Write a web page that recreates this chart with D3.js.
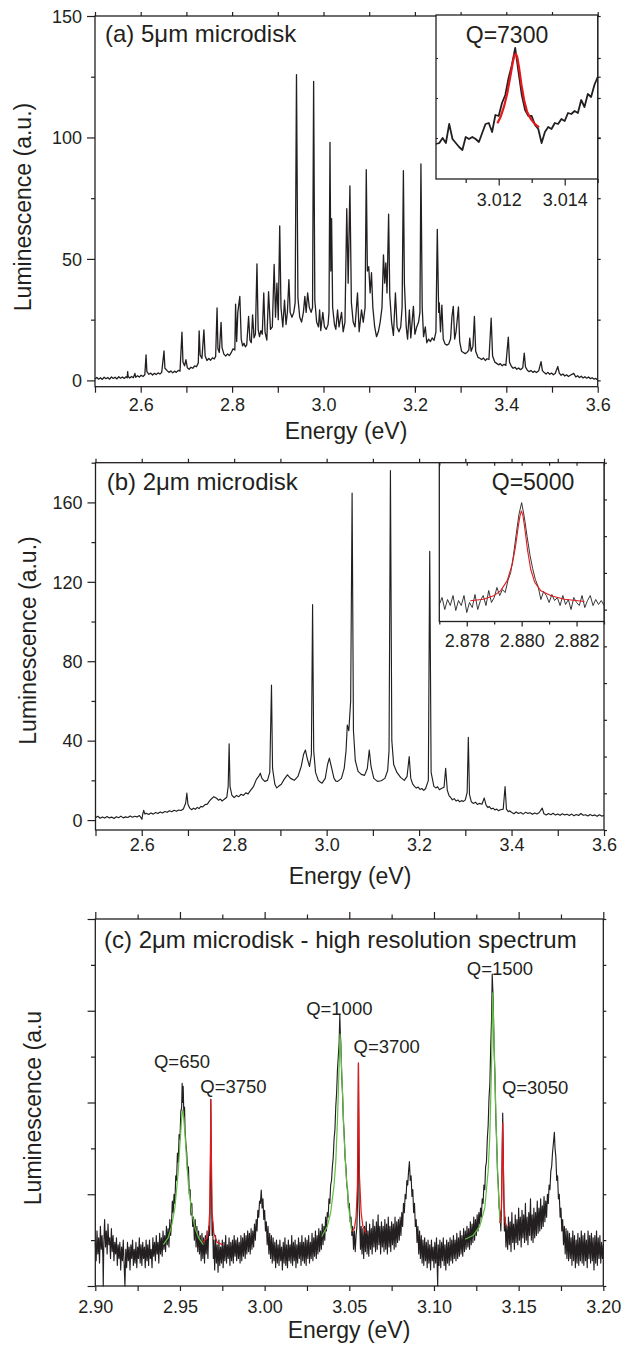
<!DOCTYPE html>
<html lang="en">
<head>
<meta charset="UTF-8">
<title>Microdisk luminescence spectra</title>
<script src="https://d3js.org/d3.v7.min.js"></script>
<style>
  body { margin: 0; background: #fff; }
  svg { display: block; }
  text { font-family: "Liberation Sans", Arial, Helvetica, sans-serif; fill: #231f20; }
</style>
</head>
<body>
<svg width="627" height="1345"></svg>
<script>
// ---- panel (a): 5um microdisk, [energy eV, luminescence a.u.]
const specA = [[2.500,0.6],[2.504,1.2],[2.508,0.5],[2.512,1.1],[2.516,0.4],[2.520,1.3],[2.524,0.7],[2.528,1.2],[2.532,0.5],[2.536,1.4],[2.540,0.8],[2.544,1.3],[2.548,0.6],[2.552,1.5],[2.556,0.9],[2.560,1.4],[2.564,0.8],[2.568,1.5],[2.5705,1.1],[2.5715,3.6],[2.5725,1.6],[2.576,1.0],[2.580,1.6],[2.584,1.1],[2.5873,2.9],[2.589,1.3],[2.593,1.9],[2.597,1.4],[2.601,2.1],[2.605,1.6],[2.609,2.3],[2.6117,10.5],[2.6135,3.6],[2.618,2.5],[2.622,3.0],[2.626,2.2],[2.630,2.9],[2.634,2.4],[2.638,3.1],[2.642,2.6],[2.646,3.3],[2.6510,12.1],[2.653,5.0],[2.658,4.0],[2.662,3.3],[2.666,3.9],[2.670,3.1],[2.674,3.8],[2.678,3.3],[2.682,4.1],[2.686,3.8],[2.6903,19.9],[2.6925,7.5],[2.6960,6.0],[2.6990,8.5],[2.702,5.2],[2.706,4.6],[2.710,5.4],[2.714,5.0],[2.718,6.0],[2.722,5.6],[2.726,7.2],[2.7279,20.4],[2.730,10.5],[2.734,9.0],[2.7383,20.8],[2.741,10.0],[2.745,8.2],[2.749,9.0],[2.753,8.3],[2.757,9.3],[2.761,8.8],[2.764,9.9],[2.7671,29.8],[2.769,13.0],[2.772,11.5],[2.7759,23.9],[2.778,13.5],[2.782,10.8],[2.786,10.0],[2.790,10.9],[2.794,10.2],[2.798,11.4],[2.802,13.0],[2.806,12.5],[2.8076,31.4],[2.810,16.0],[2.8125,28.0],[2.8169,34.6],[2.820,17.0],[2.823,14.2],[2.826,15.3],[2.829,13.8],[2.832,14.6],[2.8361,26.3],[2.839,16.5],[2.842,15.5],[2.8448,27.0],[2.848,17.5],[2.851,19.0],[2.8544,48.0],[2.857,21.0],[2.860,18.0],[2.863,20.5],[2.866,19.0],[2.8693,36.0],[2.872,20.0],[2.876,16.6],[2.8798,36.5],[2.884,21.0],[2.888,22.0],[2.8920,47.7],[2.895,26.0],[2.8981,40.0],[2.901,25.0],[2.9042,63.6],[2.907,30.0],[2.911,22.0],[2.9147,33.0],[2.918,23.0],[2.921,28.0],[2.9243,41.5],[2.927,28.0],[2.931,26.0],[2.935,28.0],[2.938,32.0],[2.9409,125.9],[2.944,34.0],[2.948,26.0],[2.952,24.0],[2.956,28.0],[2.9592,34.6],[2.962,28.0],[2.9653,36.0],[2.969,30.0],[2.973,28.0],[2.976,30.0],[2.9784,123.1],[2.981,33.0],[2.985,24.0],[2.989,22.0],[2.9915,29.0],[2.994,20.5],[2.9985,28.0],[3.002,22.0],[3.006,21.0],[3.010,23.0],[3.012,28.0],[3.0142,98.0],[3.0160,45.0],[3.0177,66.6],[3.020,30.0],[3.024,23.0],[3.027,21.0],[3.0308,29.0],[3.034,22.0],[3.0395,28.0],[3.043,20.0],[3.047,24.0],[3.0509,70.7],[3.054,40.0],[3.0578,80.1],[3.061,32.0],[3.065,24.0],[3.069,22.0],[3.0744,36.0],[3.078,20.0],[3.0832,29.0],[3.087,24.0],[3.091,30.0],[3.0936,86.7],[3.096,45.0],[3.0990,46.8],[3.102,36.0],[3.1050,44.3],[3.108,30.0],[3.112,22.0],[3.116,18.0],[3.120,20.0],[3.124,24.0],[3.128,30.0],[3.1312,51.7],[3.1340,40.0],[3.1364,48.4],[3.139,36.0],[3.1425,68.4],[3.145,35.0],[3.149,24.0],[3.153,18.5],[3.1574,36.0],[3.161,22.0],[3.165,20.0],[3.169,22.0],[3.172,30.0],[3.1748,86.3],[3.177,40.0],[3.181,22.0],[3.184,17.0],[3.1879,29.0],[3.191,17.5],[3.1967,30.5],[3.200,19.0],[3.204,22.0],[3.208,24.0],[3.211,28.0],[3.2132,89.1],[3.216,30.0],[3.219,18.0],[3.2228,22.0],[3.226,15.5],[3.230,17.0],[3.234,16.0],[3.238,17.5],[3.242,16.5],[3.246,20.0],[3.2490,62.2],[3.252,28.0],[3.2534,31.9],[3.256,20.0],[3.2590,31.0],[3.262,17.0],[3.266,15.0],[3.270,14.5],[3.274,15.0],[3.278,17.0],[3.2810,26.2],[3.2840,30.5],[3.287,17.0],[3.2900,20.0],[3.2953,30.2],[3.298,16.0],[3.302,12.0],[3.306,11.5],[3.310,11.0],[3.314,11.5],[3.318,12.5],[3.3200,17.4],[3.323,12.0],[3.327,14.0],[3.3302,26.3],[3.333,12.0],[3.338,9.5],[3.342,9.1],[3.346,8.6],[3.350,9.2],[3.354,8.2],[3.358,8.9],[3.362,8.6],[3.3669,25.6],[3.370,10.0],[3.375,7.5],[3.379,7.0],[3.383,6.4],[3.387,6.9],[3.391,6.0],[3.395,6.6],[3.399,6.2],[3.4044,17.8],[3.407,7.5],[3.411,5.8],[3.415,5.0],[3.419,5.4],[3.423,4.6],[3.427,5.1],[3.431,4.4],[3.436,5.2],[3.4393,11.2],[3.442,5.5],[3.446,4.2],[3.450,3.6],[3.454,4.1],[3.458,3.3],[3.462,3.8],[3.466,3.2],[3.471,4.0],[3.4760,7.7],[3.479,4.0],[3.483,3.2],[3.487,2.6],[3.491,3.3],[3.495,2.5],[3.499,3.0],[3.503,2.3],[3.507,2.8],[3.5127,5.7],[3.516,3.0],[3.520,2.1],[3.524,2.6],[3.528,1.8],[3.532,2.3],[3.536,1.6],[3.540,2.1],[3.5476,2.9],[3.552,1.4],[3.556,1.9],[3.560,1.2],[3.564,1.7],[3.568,1.0],[3.572,1.5],[3.576,0.9],[3.580,1.4],[3.584,0.7],[3.588,1.1],[3.592,0.5],[3.596,0.8],[3.600,0.1]];

// inset of (a): measured trace and Lorentzian fit
const insetA = [[3.0101,35],[3.0102,36],[3.0103,41],[3.0104,36],[3.0105,55],[3.0106,40],[3.0107,36],[3.0108,32],[3.0109,29],[3.0110,42],[3.0111,40],[3.0112,42],[3.0113,40],[3.0114,37],[3.0115,46],[3.0116,55],[3.0117,56],[3.0118,47],[3.0119,64],[3.0120,63],[3.0121,76],[3.0122,84],[3.0123,101],[3.0124,114],[3.0125,131],[3.0126,107],[3.0127,84],[3.0128,69],[3.0129,63],[3.0130,63],[3.0131,54],[3.0132,50],[3.0133,36],[3.0134,47],[3.0135,52],[3.0136,50],[3.0137,56],[3.0138,55],[3.0139,60],[3.0140,58],[3.0141,66],[3.0142,65],[3.0143,68],[3.0144,66],[3.0145,79],[3.0146,72],[3.0147,85],[3.0148,82],[3.0149,94],[3.0150,102]];
const fitA = [[3.01196,55.7],[3.01206,62.3],[3.01216,72.3],[3.01226,85.7],[3.01236,104],[3.01243,117.3],[3.01248,124],[3.01252,125],[3.01256,122.3],[3.01262,110.7],[3.01269,94],[3.01277,79],[3.01286,67.3],[3.01296,60.7],[3.01306,56.3],[3.01316,53.3],[3.01322,51.7]];

// ---- panel (b): 2um microdisk
const specB = [[2.500,1.2],[2.505,1.9],[2.510,0.9],[2.515,1.6],[2.520,1.0],[2.525,1.8],[2.530,1.1],[2.535,1.5],[2.540,0.8],[2.545,1.7],[2.550,1.2],[2.555,2.0],[2.560,1.1],[2.565,1.6],[2.570,1.3],[2.575,2.1],[2.580,1.4],[2.585,1.9],[2.590,1.6],[2.595,2.3],[2.599,1.0],[2.6005,0.4],[2.602,2.8],[2.6043,4.9],[2.607,3.0],[2.610,3.4],[2.615,2.8],[2.620,3.6],[2.625,3.0],[2.630,3.8],[2.635,3.3],[2.640,4.1],[2.645,3.6],[2.650,4.3],[2.655,3.9],[2.660,4.7],[2.665,4.2],[2.670,4.9],[2.675,4.4],[2.680,5.1],[2.685,4.8],[2.690,5.6],[2.695,8.5],[2.6976,13.6],[2.700,8.0],[2.704,6.0],[2.708,5.2],[2.712,6.0],[2.716,5.4],[2.720,6.4],[2.724,5.8],[2.728,6.9],[2.732,6.6],[2.737,7.8],[2.742,8.0],[2.746,9.4],[2.750,10.5],[2.756,11.8],[2.762,11.0],[2.766,10.0],[2.770,10.6],[2.774,9.6],[2.778,10.4],[2.784,11.5],[2.787,17.0],[2.7891,38.4],[2.791,17.0],[2.795,12.5],[2.800,11.3],[2.805,12.4],[2.810,11.8],[2.815,13.0],[2.820,12.4],[2.825,13.7],[2.830,13.2],[2.835,14.8],[2.842,17.0],[2.848,20.5],[2.853,22.0],[2.8565,23.6],[2.860,21.0],[2.866,19.5],[2.872,20.0],[2.877,24.0],[2.8807,68.0],[2.883,26.0],[2.888,18.0],[2.892,16.2],[2.896,17.0],[2.902,18.0],[2.908,20.5],[2.9152,22.8],[2.922,21.0],[2.930,20.0],[2.938,22.0],[2.945,27.0],[2.950,33.0],[2.9541,35.3],[2.958,31.0],[2.963,27.0],[2.967,33.0],[2.9696,108.5],[2.972,35.0],[2.976,24.0],[2.982,20.0],[2.986,19.2],[2.990,18.6],[2.997,21.0],[3.002,28.0],[3.0059,31.2],[3.010,27.0],[3.016,21.0],[3.020,19.6],[3.024,19.5],[3.032,21.0],[3.038,26.0],[3.042,35.0],[3.0447,47.9],[3.048,45.0],[3.052,60.0],[3.0551,164.7],[3.058,45.0],[3.062,30.0],[3.068,24.5],[3.075,23.0],[3.082,22.5],[3.088,26.0],[3.0922,35.3],[3.096,27.0],[3.102,21.0],[3.110,19.5],[3.118,19.8],[3.126,21.0],[3.132,25.0],[3.135,35.0],[3.138,176.0],[3.141,40.0],[3.145,28.0],[3.152,24.0],[3.160,21.5],[3.168,20.0],[3.174,22.0],[3.1786,32.0],[3.182,21.0],[3.186,18.2],[3.190,17.0],[3.194,16.1],[3.198,16.6],[3.202,15.4],[3.206,15.9],[3.210,15.0],[3.214,15.8],[3.220,20.0],[3.2230,135.3],[3.226,24.0],[3.232,17.0],[3.236,16.2],[3.240,16.8],[3.244,15.3],[3.248,15.9],[3.254,16.5],[3.2575,26.1],[3.261,15.0],[3.265,12.2],[3.268,11.5],[3.272,10.2],[3.276,10.8],[3.280,9.6],[3.284,10.1],[3.288,9.2],[3.292,9.8],[3.296,9.4],[3.300,10.2],[3.304,14.0],[3.3065,41.7],[3.309,13.0],[3.313,9.2],[3.317,8.4],[3.322,9.0],[3.326,7.9],[3.330,8.4],[3.336,8.0],[3.3409,11.1],[3.345,7.5],[3.349,6.3],[3.352,6.8],[3.356,5.6],[3.360,6.0],[3.364,5.1],[3.368,5.5],[3.372,4.7],[3.376,5.2],[3.382,5.5],[3.3860,16.9],[3.389,5.5],[3.393,4.2],[3.396,4.7],[3.400,3.9],[3.405,3.2],[3.410,4.1],[3.415,3.3],[3.420,3.8],[3.425,3.0],[3.430,3.9],[3.435,3.4],[3.440,3.7],[3.445,2.9],[3.450,3.6],[3.455,3.1],[3.460,3.8],[3.4665,6.0],[3.470,3.2],[3.475,2.6],[3.480,3.3],[3.485,2.7],[3.490,3.4],[3.495,2.5],[3.500,3.1],[3.505,2.4],[3.510,3.2],[3.515,2.6],[3.520,2.9],[3.525,2.3],[3.530,3.0],[3.535,2.2],[3.540,2.8],[3.545,2.3],[3.550,3.3],[3.555,2.4],[3.560,2.7],[3.565,2.1],[3.570,2.8],[3.575,2.2],[3.580,2.6],[3.585,1.9],[3.590,2.7],[3.595,2.0],[3.600,2.3]];

// inset of (b)
const insetB = [[2.8770,17],[2.8771,24],[2.8772,12],[2.8773,22],[2.8774,16],[2.8775,26],[2.8776,11],[2.8777,21],[2.8778,16],[2.8779,26],[2.8780,9],[2.8781,19],[2.8782,14],[2.8783,27],[2.8784,12],[2.8785,21],[2.8786,26],[2.8787,16],[2.8788,31],[2.8789,19],[2.8790,24],[2.8791,34],[2.8792,26],[2.8793,32],[2.8794,29],[2.8795,41],[2.8796,49],[2.8797,66],[2.8798,87],[2.8799,107],[2.8800,119],[2.8801,104],[2.8802,85],[2.8803,67],[2.8804,53],[2.8805,42],[2.8806,35],[2.8807,22],[2.8808,30],[2.8809,26],[2.8810,19],[2.8811,27],[2.8812,21],[2.8813,24],[2.8814,16],[2.8815,26],[2.8816,17],[2.8817,22],[2.8818,12],[2.8819,24],[2.8820,19],[2.8821,16],[2.8822,26],[2.8823,14],[2.8824,21],[2.8825,26],[2.8826,16],[2.8827,22],[2.8828,17],[2.8829,21],[2.8830,16]];
const fitB = [[2.87813,20.7],[2.87861,22.3],[2.87898,25.7],[2.87923,30.7],[2.87947,40.7],[2.87966,57.3],[2.87978,75.7],[2.87988,95.7],[2.87994,105.7],[2.87999,110.7],[2.88005,105.7],[2.88012,92.3],[2.88021,72.3],[2.88033,52.3],[2.88048,39],[2.88070,30.7],[2.88107,25.7],[2.88156,22.3],[2.88229,20]];

// ---- panel (c): high resolution spectrum of the 2um disk (arbitrary units)
const specC = [[2.9000,.95],[2.9005,.55],[2.9010,1.2],[2.9015,.7],[2.9020,1.05],[2.9025,.5],[2.9030,1.3],[2.9035,.8],[2.9040,1.1],[2.9045,.6],[2.9047,0],[2.9050,.9],[2.9055,1.45],[2.9060,.85],[2.9065,1.2],[2.9070,.7],[2.9075,1.35],[2.9080,.9],[2.9085,1.05],[2.9090,.6],[2.9095,1.25],[2.9100,.75],[2.9105,1.1],[2.9110,.55],[2.9115,.95],[2.9120,.7],[2.9125,1.05],[2.9130,.45],[2.9135,.9],[2.9140,.6],[2.9145,.95],[2.9150,.35],[2.9155,.85],[2.9160,.55],[2.9165,1.0],[2.9170,.5],[2.9175,0],[2.9180,.8],[2.9185,.4],[2.9190,.95],[2.9195,.55],[2.9200,.85],[2.9205,.35],[2.9210,.9],[2.9215,.6],[2.9220,1.0],[2.9225,.45],[2.9230,.8],[2.9235,.5],[2.9240,.95],[2.9245,.4],[2.9250,.85],[2.9255,.6],[2.9260,1.05],[2.9265,.5],[2.9270,.9],[2.9275,.45],[2.9280,.95],[2.9285,.6],[2.9290,.85],[2.9295,.4],[2.9300,1.0],[2.9305,.55],[2.9310,.9],[2.9315,.45],[2.9320,1.0],[2.9325,.6],[2.9330,.8],[2.9335,.4],[2.9340,1.05],[2.9345,.65],[2.9350,.95],[2.9355,.55],[2.9360,1.1],[2.9365,.7],[2.9370,.95],[2.9375,.5],[2.9380,1.15],[2.9385,.7],[2.9390,1.05],[2.9395,.65],[2.9400,1.2],[2.9405,.8],[2.9410,1.1],[2.9415,.75],[2.9420,1.3],[2.9425,.9],[2.9430,1.25],[2.9435,.85],[2.9440,1.45],[2.9445,1.1],[2.9450,1.35],[2.9455,1.85],[2.9460,1.6],[2.9465,2.0],[2.9470,1.8],[2.9475,2.4],[2.9480,2.3],[2.9485,2.9],[2.9490,2.7],[2.9495,3.3],[2.9500,3.2],[2.9505,3.8],[2.9510,3.9],[2.9513,4.42],[2.9516,4.0],[2.9519,4.35],[2.9523,3.7],[2.9527,3.9],[2.9530,3.4],[2.9535,3.1],[2.9540,2.9],[2.9545,2.5],[2.9550,2.6],[2.9555,2.0],[2.9560,2.1],[2.9565,1.55],[2.9570,1.8],[2.9575,1.3],[2.9580,1.5],[2.9585,1.0],[2.9590,1.45],[2.9595,.85],[2.9600,1.3],[2.9605,.75],[2.9610,1.2],[2.9615,.7],[2.9620,1.1],[2.9625,.55],[2.9630,1.15],[2.9635,.6],[2.9640,1.05],[2.9645,.5],[2.9650,1.1],[2.9655,.7],[2.9660,1.2],[2.9665,.6],[2.9670,1.3],[2.9675,1.1],[2.9678,1.6],[2.9680,2.6],[2.9682,4.07],[2.9684,3.2],[2.9687,1.8],[2.9690,1.1],[2.9693,1.4],[2.9697,.6],[2.9700,1.0],[2.9705,.35],[2.9710,1.1],[2.9715,.5],[2.9720,.9],[2.9725,.3],[2.9730,1.0],[2.9735,.45],[2.9740,.85],[2.9745,.5],[2.9750,1.0],[2.9755,.4],[2.9760,.95],[2.9765,.55],[2.9770,1.1],[2.9775,.5],[2.9780,.9],[2.9785,.6],[2.9790,1.05],[2.9795,.45],[2.9800,.95],[2.9805,.55],[2.9810,1.0],[2.9815,.5],[2.9820,1.1],[2.9825,.65],[2.9830,1.0],[2.9835,.55],[2.9840,1.05],[2.9845,.6],[2.9850,.95],[2.9855,.5],[2.9860,1.1],[2.9865,.55],[2.9870,1.05],[2.9875,.65],[2.9880,1.15],[2.9885,.6],[2.9890,1.1],[2.9895,.7],[2.9900,1.2],[2.9905,.75],[2.9910,1.15],[2.9915,.7],[2.9920,1.25],[2.9925,.8],[2.9930,1.2],[2.9935,.85],[2.9940,1.35],[2.9945,1.0],[2.9950,1.45],[2.9955,1.2],[2.9960,1.65],[2.9965,1.5],[2.9970,1.85],[2.9975,1.8],[2.9980,2.09],[2.9985,1.7],[2.9990,1.9],[2.9995,1.45],[3.0000,1.65],[3.0005,1.2],[3.0010,1.4],[3.0015,.9],[3.0020,1.3],[3.0025,.7],[3.0030,1.15],[3.0035,.6],[3.0040,1.1],[3.0045,.5],[3.0050,1.05],[3.0055,.55],[3.0060,.95],[3.0065,.4],[3.0070,1.0],[3.0075,.5],[3.0080,.9],[3.0085,.45],[3.0090,1.0],[3.0095,.55],[3.0100,.85],[3.0105,.35],[3.0110,.95],[3.0115,.5],[3.0120,1.05],[3.0125,.45],[3.0130,.9],[3.0135,.4],[3.0140,1.0],[3.0145,.55],[3.0150,.9],[3.0155,.5],[3.0160,1.1],[3.0165,.45],[3.0170,.95],[3.0175,.55],[3.0180,1.0],[3.0185,.4],[3.0190,.9],[3.0195,.5],[3.0200,1.05],[3.0205,.6],[3.0210,.95],[3.0215,.45],[3.0220,1.1],[3.0225,.55],[3.0230,.95],[3.0235,.5],[3.0240,1.05],[3.0245,.45],[3.0250,1.0],[3.0255,.6],[3.0260,1.1],[3.0265,.5],[3.0270,.95],[3.0275,.6],[3.0280,1.15],[3.0285,.55],[3.0290,1.05],[3.0295,.65],[3.0300,1.2],[3.0305,.6],[3.0310,1.1],[3.0315,.7],[3.0320,1.25],[3.0325,.75],[3.0330,1.2],[3.0335,.8],[3.0340,1.35],[3.0345,.9],[3.0350,1.3],[3.0355,1.0],[3.0360,1.5],[3.0365,1.2],[3.0370,1.6],[3.0375,1.5],[3.0380,1.9],[3.0385,1.8],[3.0390,2.2],[3.0395,2.3],[3.0400,2.6],[3.0405,2.8],[3.0410,3.2],[3.0415,3.4],[3.0420,3.9],[3.0425,4.2],[3.0430,4.7],[3.0435,5.0],[3.0440,5.3],[3.0444,5.91],[3.0447,5.5],[3.0450,5.3],[3.0455,4.6],[3.0460,4.2],[3.0465,3.6],[3.0470,3.3],[3.0475,2.8],[3.0480,2.6],[3.0485,2.2],[3.0490,2.1],[3.0495,1.7],[3.0500,1.8],[3.0505,1.4],[3.0510,1.5],[3.0515,1.1],[3.0520,1.3],[3.0525,.8],[3.0530,1.2],[3.0535,.75],[3.0540,1.1],[3.0545,1.3],[3.0549,1.9],[3.0552,3.6],[3.0554,4.86],[3.0556,3.5],[3.0558,1.8],[3.0562,1.3],[3.0566,.8],[3.0570,1.3],[3.0575,.7],[3.0580,1.25],[3.0585,.6],[3.0590,1.3],[3.0595,.75],[3.0600,1.4],[3.0605,.7],[3.0610,1.2],[3.0615,.65],[3.0620,1.35],[3.0625,.8],[3.0630,1.25],[3.0635,.7],[3.0640,1.45],[3.0645,.85],[3.0650,1.3],[3.0655,.75],[3.0660,1.4],[3.0665,.8],[3.0670,1.55],[3.0675,.9],[3.0680,1.3],[3.0685,.7],[3.0690,1.4],[3.0695,.85],[3.0700,1.3],[3.0705,.75],[3.0710,1.45],[3.0715,.8],[3.0720,1.35],[3.0725,.7],[3.0730,1.5],[3.0735,.85],[3.0740,1.3],[3.0745,.75],[3.0750,1.4],[3.0755,.9],[3.0760,1.35],[3.0765,.8],[3.0770,1.5],[3.0775,.85],[3.0780,1.4],[3.0785,.95],[3.0790,1.45],[3.0795,1.0],[3.0800,1.5],[3.0805,1.1],[3.0810,1.6],[3.0815,1.3],[3.0820,1.8],[3.0825,1.6],[3.0830,2.0],[3.0835,1.9],[3.0840,2.3],[3.0845,2.2],[3.0850,2.5],[3.0855,2.71],[3.0860,2.3],[3.0865,2.4],[3.0870,1.95],[3.0875,2.1],[3.0880,1.6],[3.0885,1.8],[3.0890,1.3],[3.0895,1.45],[3.0900,.95],[3.0905,1.3],[3.0910,.7],[3.0915,1.2],[3.0920,.6],[3.0925,1.1],[3.0930,.5],[3.0935,1.0],[3.0940,.45],[3.0945,1.05],[3.0950,.55],[3.0955,.95],[3.0960,.4],[3.0965,1.0],[3.0970,.5],[3.0975,.9],[3.0980,.35],[3.0985,1.0],[3.0990,.55],[3.0995,.85],[3.1000,.4],[3.1005,.95],[3.1010,.5],[3.1015,1.05],[3.1022,0],[3.1025,.9],[3.1030,.45],[3.1035,1.0],[3.1040,.4],[3.1045,.95],[3.1050,.55],[3.1055,1.05],[3.1060,.45],[3.1065,.9],[3.1070,.35],[3.1075,1.0],[3.1080,.5],[3.1085,.95],[3.1090,.45],[3.1095,1.05],[3.1100,.55],[3.1105,1.0],[3.1110,.5],[3.1115,1.1],[3.1120,.6],[3.1125,1.0],[3.1130,.55],[3.1135,1.15],[3.1140,.6],[3.1145,1.05],[3.1150,.65],[3.1155,1.2],[3.1160,.7],[3.1165,1.1],[3.1170,.65],[3.1175,1.25],[3.1180,.75],[3.1185,1.2],[3.1190,.8],[3.1195,1.3],[3.1200,.85],[3.1205,1.25],[3.1210,.8],[3.1215,1.4],[3.1220,.9],[3.1225,1.35],[3.1230,.95],[3.1235,1.5],[3.1240,1.0],[3.1245,1.45],[3.1250,1.1],[3.1255,1.55],[3.1260,1.2],[3.1265,1.6],[3.1270,1.35],[3.1275,1.7],[3.1280,1.5],[3.1285,1.9],[3.1290,1.8],[3.1295,2.2],[3.1300,2.1],[3.1305,2.6],[3.1310,2.7],[3.1315,3.2],[3.1320,3.5],[3.1325,4.1],[3.1330,4.4],[3.1335,5.2],[3.1340,5.8],[3.1344,6.8],[3.1347,6.5],[3.1350,6.2],[3.1355,5.2],[3.1360,4.6],[3.1365,3.7],[3.1370,3.2],[3.1375,2.5],[3.1380,2.2],[3.1385,1.7],[3.1390,1.6],[3.1395,1.2],[3.1400,1.9],[3.1403,3.0],[3.1406,3.77],[3.1409,3.0],[3.1412,2.0],[3.1416,1.2],[3.1420,1.5],[3.1425,.85],[3.1430,1.3],[3.1435,.8],[3.1440,1.5],[3.1445,.9],[3.1450,1.4],[3.1455,.75],[3.1460,1.6],[3.1465,.95],[3.1470,1.35],[3.1475,.8],[3.1480,1.55],[3.1485,.95],[3.1490,1.45],[3.1495,.9],[3.1500,1.7],[3.1505,1.0],[3.1510,1.5],[3.1515,.85],[3.1520,1.65],[3.1525,1.05],[3.1530,1.55],[3.1535,.95],[3.1540,1.8],[3.1545,1.0],[3.1550,1.5],[3.1555,.9],[3.1560,1.6],[3.1565,1.1],[3.1570,1.9],[3.1575,1.0],[3.1580,1.55],[3.1585,.95],[3.1590,1.7],[3.1595,1.05],[3.1600,1.6],[3.1605,1.1],[3.1610,1.85],[3.1615,1.15],[3.1620,1.7],[3.1625,1.2],[3.1630,1.9],[3.1635,1.25],[3.1640,1.75],[3.1645,1.3],[3.1650,1.95],[3.1655,1.4],[3.1660,1.85],[3.1665,1.5],[3.1670,2.0],[3.1675,1.8],[3.1680,2.2],[3.1685,2.1],[3.1690,2.5],[3.1695,2.6],[3.1700,2.9],[3.1705,3.1],[3.1711,3.35],[3.1715,3.0],[3.1720,2.8],[3.1725,2.3],[3.1730,2.4],[3.1735,1.9],[3.1740,2.0],[3.1745,1.5],[3.1750,1.7],[3.1755,1.2],[3.1760,1.45],[3.1765,.9],[3.1770,1.3],[3.1775,.7],[3.1780,1.25],[3.1785,.6],[3.1790,1.2],[3.1795,.55],[3.1800,1.15],[3.1805,.6],[3.1810,1.05],[3.1815,.45],[3.1820,1.2],[3.1825,.55],[3.1830,1.1],[3.1835,.4],[3.1840,1.0],[3.1845,.5],[3.1850,1.15],[3.1855,.45],[3.1860,1.05],[3.1865,.55],[3.1870,1.2],[3.1875,.5],[3.1880,1.1],[3.1885,.45],[3.1890,1.15],[3.1895,.55],[3.1900,1.0],[3.1905,.4],[3.1910,1.2],[3.1915,.6],[3.1920,1.1],[3.1925,.5],[3.1930,1.15],[3.1935,.55],[3.1940,1.05],[3.1945,.35],[3.1950,1.1],[3.1955,.5],[3.1960,1.2],[3.1965,.45],[3.1970,1.05],[3.1975,.6],[3.1980,1.1],[3.1985,.5],[3.1990,.95],[3.1995,.6],[3.2000,.9]];

// Lorentzian fits drawn over (c): broad modes in green, sharp modes in red
const greenFitsC = [
  [[2.9402,0.9],[2.943,1.05],[2.945,1.3],[2.947,1.7],[2.949,2.5],[2.950,3.1],[2.951,3.65],[2.9516,3.84],[2.952,3.75],[2.953,3.3],[2.954,2.7],[2.955,2.2],[2.957,1.6],[2.959,1.25],[2.961,1.05],[2.9638,0.9]],
  [[3.0337,1.08],[3.037,1.3],[3.039,1.6],[3.041,2.2],[3.042,2.7],[3.043,3.6],[3.044,4.8],[3.0445,5.49],[3.045,5.2],[3.046,4.2],[3.047,3.2],[3.048,2.5],[3.049,2.0],[3.050,1.6],[3.0514,1.19]],
  [[3.1184,1.02],[3.123,1.1],[3.127,1.3],[3.130,1.7],[3.132,2.5],[3.133,3.3],[3.134,4.8],[3.1347,6.39],[3.135,6.0],[3.136,4.6],[3.137,3.1],[3.138,2.1],[3.139,1.37]]
];
const redFitsC = [
  [[2.9635,0.95],[2.966,1.05],[2.967,1.25],[2.9675,1.6],[2.968,2.9],[2.9682,4.07],[2.9685,3.0],[2.969,1.6],[2.970,1.15],[2.972,0.95],[2.9752,0.9]],
  [[3.0514,1.19],[3.053,1.25],[3.054,1.5],[3.0548,2.2],[3.0552,3.8],[3.0554,4.86],[3.0556,3.9],[3.056,2.4],[3.057,1.6],[3.058,1.3],[3.0599,1.15]],
  [[3.139,1.37],[3.1398,1.7],[3.1403,2.8],[3.1406,3.55],[3.1409,2.8],[3.1414,1.8],[3.142,1.4],[3.143,1.29]]
];
const qLabelsC = ["Q=650", "Q=3750", "Q=1000", "Q=3700", "Q=1500", "Q=3050"];
const qAnchorsC = [[2.9512, 4.75], [2.9816, 4.2], [3.0441, 5.91], [3.0721, 5.07], [3.139, 6.78], [3.1597, 4.19]];

// ticks
const energyTicksAB = [2.5, 2.6, 2.7, 2.8, 2.9, 3.0, 3.1, 3.2, 3.3, 3.4, 3.5, 3.6];
const energyLabelsAB = [2.6, 2.8, 3.0, 3.2, 3.4, 3.6];
const lumTicksA = [0, 25, 50, 75, 100, 125, 150];
const lumLabelsA = [0, 50, 100, 150];
const lumTicksB = [0, 20, 40, 60, 80, 100, 120, 140, 160, 180];
const lumLabelsB = [0, 40, 80, 120, 160];
const energyTicksC = [2.9, 2.925, 2.95, 2.975, 3.0, 3.025, 3.05, 3.075, 3.1, 3.125, 3.15, 3.175, 3.2];
const energyLabelsC = [2.9, 2.95, 3.0, 3.05, 3.1, 3.15, 3.2];
const insetTicksA = [3.011, 3.012, 3.013, 3.014, 3.015];
const insetLabelsA = [3.012, 3.014];
const insetTicksB = [2.877, 2.878, 2.879, 2.880, 2.881, 2.882, 2.883];
const insetLabelsB = [2.878, 2.880, 2.882];

const INK = "#231f20";
const svg = d3.select("svg");

// one axis side with D3's axis generator; labels only on the listed values
function side(g, gen, scale, values, size, pos, labelVals, fmt, labelOffset) {
  const isH = gen === d3.axisBottom || gen === d3.axisTop;
  const show = labelVals ? new Set(labelVals.map(v => v.toFixed(4))) : new Set();
  const ax = gen(scale).tickValues(values).tickSizeInner(size).tickSizeOuter(0)
    .tickFormat(v => show.has(v.toFixed(4)) ? fmt(v) : "");
  const a = g.append("g")
    .attr("transform", isH ? `translate(0,${pos})` : `translate(${pos},0)`)
    .call(ax);
  a.select(".domain").remove();
  a.selectAll(".tick line").attr("stroke", INK).attr("stroke-width", 1.2);
  const t = a.selectAll(".tick text").attr("font-size", 18).attr("fill", INK);
  if (isH) t.attr("y", labelOffset).attr("dy", null);
  else t.attr("x", labelOffset).attr("dy", "0.35em");
  return a;
}

function frame(g, x, y) {
  const [x0, x1] = x.range(), [y0, y1] = y.range();
  g.append("rect").attr("x", x0).attr("y", y1).attr("width", x1 - x0).attr("height", y0 - y1)
    .attr("fill", "none").attr("stroke", INK).attr("stroke-width", 1.3);
}

function trace(g, data, x, y, color, width) {
  g.append("path").datum(data)
    .attr("fill", "none").attr("stroke", color).attr("stroke-width", width)
    .attr("stroke-linejoin", "round")
    .attr("d", d3.line().x(d => x(d[0])).y(d => y(d[1])));
}

function label(g, txt, x, y, size, anchor, rot) {
  const t = g.append("text").text(txt).attr("font-size", size)
    .attr("text-anchor", anchor || "start");
  if (rot) t.attr("transform", `translate(${x},${y}) rotate(-90)`).attr("dominant-baseline", "central");
  else t.attr("x", x).attr("y", y);
  return t;
}

const f1 = d3.format(".1f"), f0 = d3.format("d"), f2 = d3.format(".2f"), f3 = d3.format(".3f");

// ================= panel (a)
{
  const g = svg.append("g");
  const x = d3.scaleLinear().domain([2.5, 3.6]).range([95, 597.7]);
  const y = d3.scaleLinear().domain([-2.6, 150]).range([386.7, 16]);
  trace(g, specA, x, y, INK, 1.3);
  side(g, d3.axisBottom, x, energyTicksAB, 6, 386.7, energyLabelsAB, f1, 24.3);
  side(g, d3.axisTop, x, energyTicksAB, 4, 16);
  side(g, d3.axisLeft, y, lumLabelsA, 8, 95, lumLabelsA, f0, -13);
  side(g, d3.axisLeft, y, lumTicksA.filter(v => !lumLabelsA.includes(v)), 4, 95);
  side(g, d3.axisRight, y, lumTicksA, 3, 597.7);
  frame(g, x, y);
  label(g, "(a) 5\u03bcm microdisk", 105, 42, 24);
  label(g, "Energy (eV)", 346, 439, 23, "middle");
  label(g, "Luminescence (a.u.)", 22.5, 207, 23, "middle", true);

  // inset
  const ix = d3.scaleLinear().domain([3.0101, 3.015]).range([436, 597.7]);
  const iy = d3.scaleLinear().domain([0, 164]).range([179, 15]);
  g.append("rect").attr("x", 436).attr("y", 15).attr("width", 161.7).attr("height", 164).attr("fill", "#fff");
  trace(g, insetA, ix, iy, INK, 1.8);
  trace(g, fitA, ix, iy, "#e3191c", 2.2);
  side(g, d3.axisBottom, ix, insetLabelsA, 6.5, 179, insetLabelsA, f3, 27);
  side(g, d3.axisBottom, ix, insetTicksA.filter(v => !insetLabelsA.includes(v)), 4, 179);
  side(g, d3.axisLeft, iy, [41, 81, 121], -2, 436);
  side(g, d3.axisRight, iy, [41, 81, 121], 3, 597.7);
  frame(g, ix, iy);
  label(g, "Q=7300", 507, 43, 23, "middle");
}

// ================= panel (b)
{
  const g = svg.append("g");
  const x = d3.scaleLinear().domain([2.5, 3.6]).range([95.5, 604]);
  const y = d3.scaleLinear().domain([-5, 180]).range([830, 462.7]);
  const yr = d3.scaleLinear().domain([0, 10]).range([830, 462.7]);
  trace(g, specB, x, y, INK, 1.15);
  side(g, d3.axisBottom, x, energyTicksAB, 6, 830, energyLabelsAB, f1, 21);
  side(g, d3.axisTop, x, energyTicksAB, 4, 462.7);
  side(g, d3.axisLeft, y, lumLabelsB, 8, 95.5, lumLabelsB, f0, -13);
  side(g, d3.axisLeft, y, lumTicksB.filter(v => !lumLabelsB.includes(v)), 4, 95.5);
  side(g, d3.axisRight, yr, d3.range(0, 11), 3, 604);
  frame(g, x, y);
  label(g, "(b) 2\u03bcm microdisk", 106.7, 490, 24);
  label(g, "Energy (eV)", 350, 884, 23, "middle");
  label(g, "Luminescence (a.u.)", 27.5, 640.5, 23, "middle", true);

  const ix = d3.scaleLinear().domain([2.877, 2.883]).range([439.3, 604]);
  const iy = d3.scaleLinear().domain([0, 159]).range([621.5, 462.7]);
  g.append("rect").attr("x", 439.3).attr("y", 462.7).attr("width", 164.7).attr("height", 158.8).attr("fill", "#fff");
  trace(g, insetB, ix, iy, INK, 0.9);
  trace(g, fitB, ix, iy, "#e3191c", 1.1);
  side(g, d3.axisBottom, ix, insetLabelsB, 5, 621.5, insetLabelsB, f3, 25.5);
  side(g, d3.axisBottom, ix, insetTicksB.filter(v => !insetLabelsB.includes(v)), 3, 621.5);
  side(g, d3.axisTop, ix, insetTicksB, -3, 462.7);
  frame(g, ix, iy);
  label(g, "Q=5000", 533, 490, 23, "middle");
}

// ================= panel (c)
{
  const g = svg.append("g");
  const x = d3.scaleLinear().domain([2.9, 3.2]).range([95.3, 603.3]);
  const y = d3.scaleLinear().domain([0, 8]).range([1286, 919]);
  trace(g, specC, x, y, INK, 1.15);
  greenFitsC.forEach(d => trace(g, d, x, y, "#62bd45", 1.2));
  redFitsC.forEach(d => trace(g, d, x, y, "#e3191c", 1.2));
  side(g, d3.axisBottom, x, energyTicksC, 5, 1286, energyLabelsC, f2, 26.7);
  side(g, d3.axisTop, x, energyLabelsC, 7, 919);
  side(g, d3.axisTop, x, energyTicksC.filter(v => !energyLabelsC.some(l => Math.abs(l - v) < 1e-6)), 4.5, 919);
  side(g, d3.axisLeft, y, [0, 2, 4, 6, 8], 7.7, 95.3);
  side(g, d3.axisLeft, y, [1, 3, 5, 7], 4.3, 95.3);
  side(g, d3.axisRight, y, d3.range(0, 9), 3, 603.3);
  frame(g, x, y);
  label(g, "(c) 2\u03bcm microdisk - high resolution spectrum", 104, 948, 24);
  label(g, "Energy (eV)", 349, 1338, 23, "middle");
  label(g, "Luminescence (a.u", 32.5, 1108, 23, "middle", true);
  qLabelsC.forEach((q, i) => label(g, q, x(qAnchorsC[i][0]), y(qAnchorsC[i][1]), 18.5, "middle"));
}
</script>
</body>
</html>
